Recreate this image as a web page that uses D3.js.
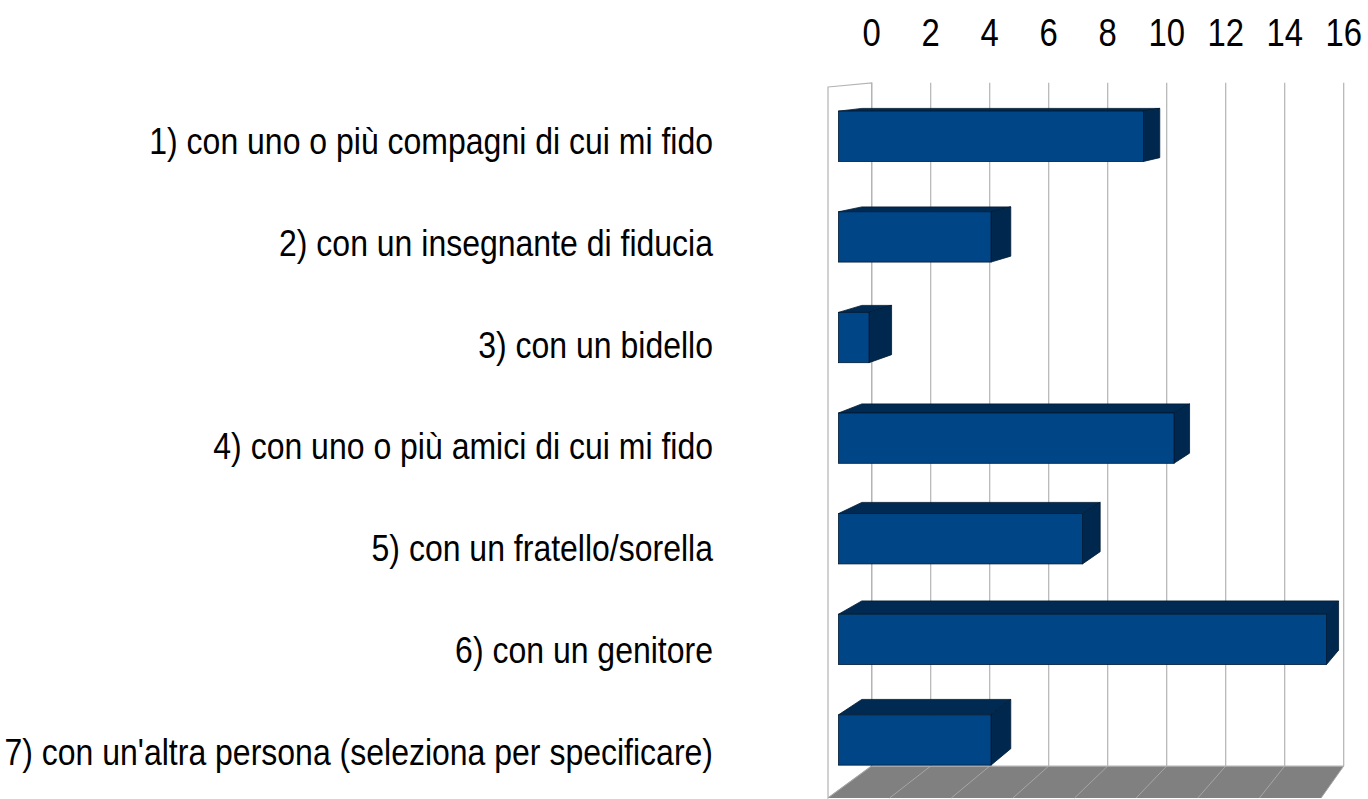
<!DOCTYPE html>
<html>
<head>
<meta charset="utf-8">
<script src="https://cdn.jsdelivr.net/npm/d3@7/dist/d3.min.js"></script>
<style>
  body { margin: 0; background: #fff; }
  text { font-family: "Liberation Sans", Arial, sans-serif; fill: #000; }
</style>
</head>
<body>
<div id="chart"></div>
<script>
const categories = [
  "1) con uno o più compagni di cui mi fido",
  "2) con un insegnante di fiducia",
  "3) con un bidello",
  "4) con uno o più amici di cui mi fido",
  "5) con un fratello/sorella",
  "6) con un genitore",
  "7) con un'altra persona (seleziona per specificare)"
];
const values = [10, 5, 1, 11, 8, 16, 5];
const tickValues = [0, 2, 4, 6, 8, 10, 12, 14, 16];

const width = 1368;
const height = 799;

// the source font is a condensed one, squeeze the text horizontally
const squeeze = 0.865;

const svg = d3.select("#chart")
  .append("svg")
  .attr("width", width)
  .attr("height", height);

// scales on the bars' front plane
const x = d3.scaleLinear().domain([0, 16]).range([838.5, 1326.5]);
const y = d3.scaleBand()
  .domain(categories)
  .range([86, 790.3])
  .paddingInner(0.5)
  .paddingOuter(0.25);

const labelY = d3.scalePoint().domain(categories).range([141, 752]);

const yTop = y.range()[0];
const yBottom = y.range()[1];

// rough perspective: depth 0 = bar front, 1 = bar back
const vp = { x: 1851, y: -20 };
const kx = 0.023, ky = 0.021;
const wallDepth = 1.426;
const frontDepth = -0.45;

function proj(px, py, d) {
  return [px + (vp.x - px) * kx * d, py + (vp.y - py) * ky * d];
}

function face(pts) {
  return pts.map(p => p.join(",")).join(" ");
}

const gridColor = "#b3b3b3";

// back wall
const wTL = proj(x(0), yTop, wallDepth);
const wBR = proj(x(16), yBottom, wallDepth);
svg.append("rect")
  .attr("x", wTL[0])
  .attr("y", wTL[1])
  .attr("width", wBR[0] - wTL[0])
  .attr("height", wBR[1] - wTL[1])
  .attr("fill", "#fff");

// left side wall
svg.append("polygon")
  .attr("points", face([
    proj(x(0), yTop, frontDepth),
    proj(x(0), yTop, wallDepth),
    proj(x(0), yBottom, wallDepth),
    proj(x(0), yBottom, frontDepth)
  ]))
  .attr("fill", "#fff")
  .attr("stroke", gridColor)
  .attr("stroke-width", 1.2);

// floor
svg.append("polygon")
  .attr("points", face([
    proj(x(0), yBottom, frontDepth),
    proj(x(16), yBottom, frontDepth),
    proj(x(16), yBottom, wallDepth),
    proj(x(0), yBottom, wallDepth)
  ]))
  .attr("fill", "#808080");

// grid lines on wall and floor
svg.selectAll(".grid")
  .data(tickValues)
  .enter()
  .append("line")
  .attr("class", "grid")
  .attr("x1", d => proj(x(d), yTop, wallDepth)[0])
  .attr("y1", d => proj(x(d), yTop, wallDepth)[1])
  .attr("x2", d => proj(x(d), yBottom, wallDepth)[0])
  .attr("y2", d => proj(x(d), yBottom, wallDepth)[1])
  .attr("stroke", gridColor)
  .attr("stroke-width", 1.2);

svg.selectAll(".floorgrid")
  .data(tickValues)
  .enter()
  .append("line")
  .attr("class", "floorgrid")
  .attr("x1", d => proj(x(d), yBottom, wallDepth)[0])
  .attr("y1", d => proj(x(d), yBottom, wallDepth)[1])
  .attr("x2", d => proj(x(d), yBottom, frontDepth)[0])
  .attr("y2", d => proj(x(d), yBottom, frontDepth)[1])
  .attr("stroke", "#a6a6a6")
  .attr("stroke-width", 1);

svg.append("line")
  .attr("x1", wTL[0])
  .attr("y1", wBR[1])
  .attr("x2", wBR[0])
  .attr("y2", wBR[1])
  .attr("stroke", gridColor)
  .attr("stroke-width", 1.2);

// tick labels at the top
svg.selectAll(".tick")
  .data(tickValues)
  .enter()
  .append("text")
  .attr("class", "tick")
  .attr("transform", `scale(${squeeze}, 1)`)
  .attr("x", d => proj(x(d), yTop, wallDepth)[0] / squeeze)
  .attr("y", 46)
  .attr("text-anchor", "middle")
  .attr("font-size", 38)
  .text(d => d);

// bars
const rows = categories.map((c, i) => ({ category: c, value: values[i] }));

const bars = svg.selectAll(".bar")
  .data(rows)
  .enter()
  .append("g")
  .attr("class", "bar");

bars.append("polygon")
  .attr("points", d => {
    const x0 = x(0), x1 = x(d.value), y0 = y(d.category);
    return face([proj(x0, y0, 0), proj(x1, y0, 0), proj(x1, y0, 1), proj(x0, y0, 1)]);
  })
  .attr("fill", "#002a52")
  .attr("stroke", "#001a33")
  .attr("stroke-width", 0.8);

bars.append("polygon")
  .attr("points", d => {
    const x1 = x(d.value), y0 = y(d.category), y1 = y0 + y.bandwidth();
    return face([proj(x1, y0, 0), proj(x1, y0, 1), proj(x1, y1, 1), proj(x1, y1, 0)]);
  })
  .attr("fill", "#00284e")
  .attr("stroke", "#001a33")
  .attr("stroke-width", 0.8);

bars.append("rect")
  .attr("x", x(0))
  .attr("y", d => y(d.category))
  .attr("width", d => x(d.value) - x(0))
  .attr("height", y.bandwidth())
  .attr("fill", "#004586")
  .attr("stroke", "#001a33")
  .attr("stroke-width", 0.8);

// category labels
svg.selectAll(".label")
  .data(categories)
  .enter()
  .append("text")
  .attr("class", "label")
  .attr("transform", `scale(${squeeze}, 1)`)
  .attr("x", 713 / squeeze)
  .attr("y", d => labelY(d))
  .attr("dy", "0.35em")
  .attr("text-anchor", "end")
  .attr("font-size", 37)
  .text(d => d);
</script>
</body>
</html>
